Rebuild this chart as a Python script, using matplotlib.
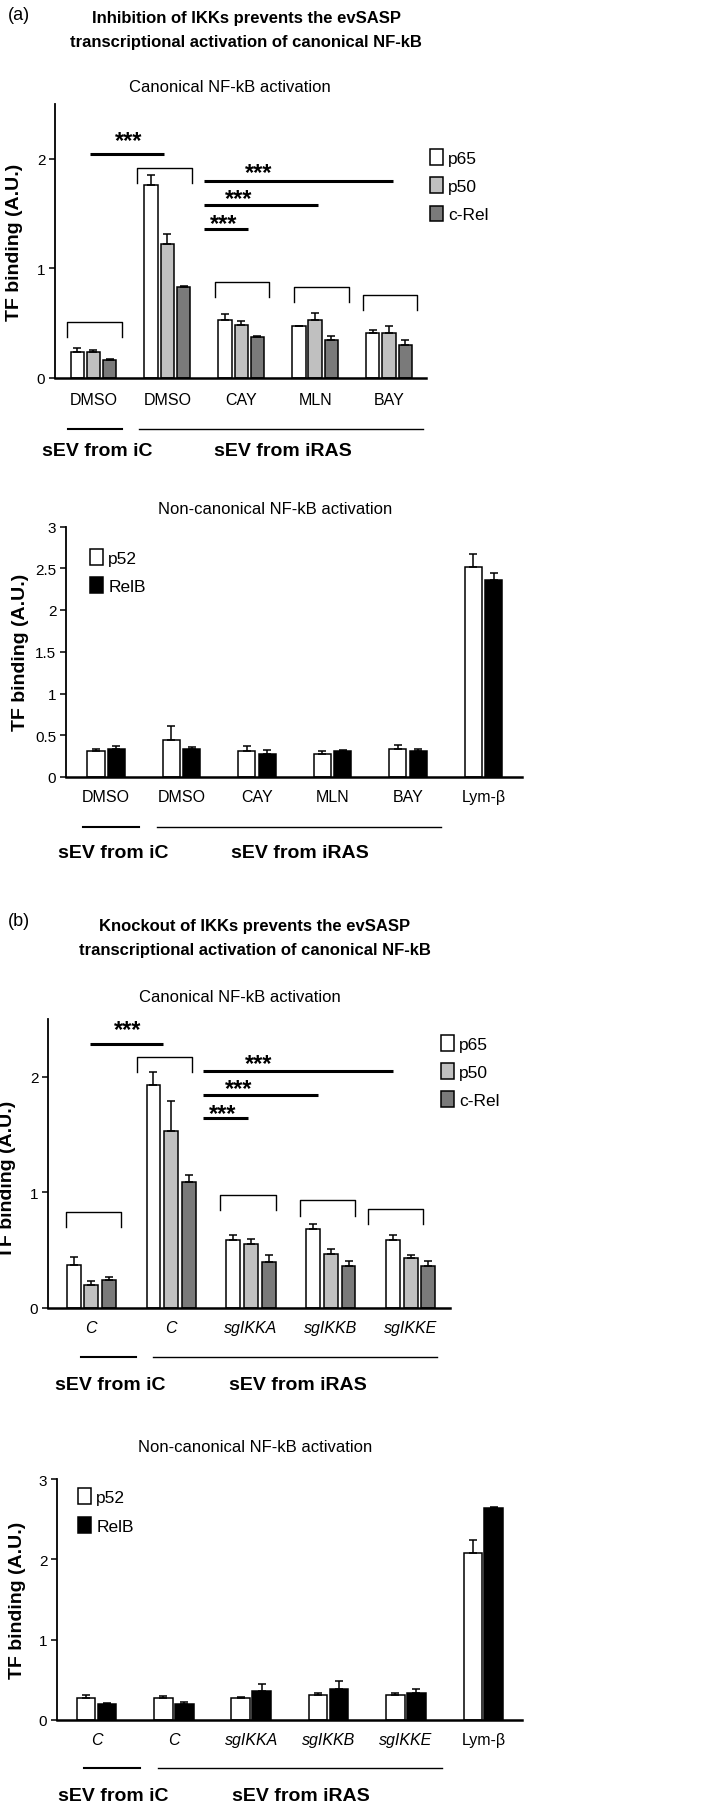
import numpy as np
import matplotlib
matplotlib.use('Agg')
import matplotlib.pyplot as plt

plt.rcParams['font.family'] = ['Liberation Sans', 'DejaVu Sans']

# ---------------- data ----------------
# (a) canonical
a_groups = ['DMSO', 'DMSO', 'CAY', 'MLN', 'BAY']
a_p65 = [0.24, 1.76, 0.53, 0.47, 0.41]
a_p65_err = [0.03, 0.09, 0.05, 0.005, 0.03]
a_p50 = [0.24, 1.22, 0.48, 0.53, 0.41]
a_p50_err = [0.02, 0.09, 0.04, 0.06, 0.06]
a_crel = [0.16, 0.83, 0.37, 0.35, 0.30]
a_crel_err = [0.01, 0.005, 0.01, 0.03, 0.045]

# (a) non-canonical
a2_groups = ['DMSO', 'DMSO', 'CAY', 'MLN', 'BAY', 'Lym-β']
a2_p52 = [0.31, 0.44, 0.31, 0.28, 0.33, 2.51]
a2_p52_err = [0.03, 0.17, 0.06, 0.03, 0.05, 0.16]
a2_relb = [0.34, 0.34, 0.28, 0.31, 0.31, 2.36]
a2_relb_err = [0.03, 0.02, 0.04, 0.01, 0.025, 0.08]

# (b) canonical
b_groups = ['C', 'C', 'sgIKKA', 'sgIKKB', 'sgIKKE']
b_p65 = [0.376, 1.925, 0.59, 0.68, 0.59]
b_p65_err = [0.064, 0.115, 0.04, 0.05, 0.04]
b_p50 = [0.20, 1.53, 0.55, 0.47, 0.43]
b_p50_err = [0.03, 0.26, 0.05, 0.04, 0.03]
b_crel = [0.245, 1.086, 0.40, 0.36, 0.36]
b_crel_err = [0.02, 0.064, 0.06, 0.05, 0.045]

# (b) non-canonical
b2_groups = ['C', 'C', 'sgIKKA', 'sgIKKB', 'sgIKKE', 'Lym-β']
b2_p52 = [0.28, 0.28, 0.28, 0.31, 0.31, 2.08]
b2_p52_err = [0.03, 0.02, 0.005, 0.025, 0.025, 0.16]
b2_relb = [0.195, 0.195, 0.36, 0.39, 0.335, 2.64]
b2_relb_err = [0.02, 0.035, 0.09, 0.09, 0.055, 0.01]

# brackets over each group (left, right, top) and significance lines (x0, x1, y, star_x, star_y)
a_brackets = [(-0.36, 0.39, 0.51), (0.59, 1.34, 1.92), (1.64, 2.38, 0.88), (2.72, 3.46, 0.83), (3.65, 4.38, 0.76)]
a_sig = [(-0.04, 0.95, 2.04, 0.47, 2.22), (1.49, 4.05, 1.80, 2.23, 1.93),
         (1.49, 3.04, 1.58, 1.96, 1.69), (1.49, 2.09, 1.36, 1.76, 1.46)]
b_brackets = [(-0.31, 0.375, 0.83), (0.575, 1.26, 2.17), (1.61, 2.31, 0.98), (2.61, 3.30, 0.93), (3.46, 4.15, 0.86)]
b_sig = [(-0.01, 0.90, 2.28, 0.46, 2.46), (1.40, 3.78, 2.05, 2.09, 2.17),
         (1.40, 2.84, 1.84, 1.84, 1.95), (1.40, 1.96, 1.64, 1.65, 1.73)]

W, H = 709, 1806
fig = plt.figure(figsize=(W / 100, H / 100), dpi=100)


def fx(px):
    return px / W


def fy(py):
    return 1 - py / H


def add_ax(left, right, top, bottom):
    return fig.add_axes([fx(left), fy(bottom), (right - left) / W, (bottom - top) / H])


def bars(ax, series, errs, colors, labels, width, offsets):
    x = np.arange(len(series[0]))
    for vals, err, c, lab, off in zip(series, errs, colors, labels, offsets):
        ax.bar(x + off, vals, width, color=c, edgecolor='black', linewidth=1.1,
               yerr=[np.zeros(len(err)), err], capsize=2.8,
               error_kw=dict(elinewidth=1.1, capthick=1.1, ecolor='black'),
               label=lab, zorder=2)
    return x


def style(ax, x, groups, xlim, ylim, yticks, italic=False, pad=10):
    ax.set_xlim(*xlim)
    ax.set_ylim(*ylim)
    for s in ['top', 'right']:
        ax.spines[s].set_visible(False)
    ax.spines['left'].set_linewidth(1.3)
    ax.spines['bottom'].set_linewidth(1.8)
    ax.set_yticks(yticks)
    ax.set_yticklabels(['{:g}'.format(t) for t in yticks])
    ax.tick_params(axis='y', length=4, width=1.1, labelsize=11, pad=3)
    ax.set_xticks(x)
    ax.set_xticklabels(groups, fontsize=11.5)
    if italic:
        for t in ax.get_xticklabels():
            if not t.get_text().startswith('Lym'):
                t.set_style('italic')
    ax.tick_params(axis='x', length=0, pad=pad)
    ax.set_ylabel('TF binding (A.U.)', fontsize=14, fontweight='bold', va='center')


def groups_below(ax, iC_span, iRAS_span, y_line, y_text, iC_x, iRAS_x):
    tr = ax.get_xaxis_transform()
    ax.plot(iC_span, [y_line, y_line], color='black', lw=1.5, transform=tr, clip_on=False)
    ax.plot(iRAS_span, [y_line, y_line], color='black', lw=1.0, transform=tr, clip_on=False)
    ax.text(iC_x, y_text, 'sEV from iC', transform=tr, ha='center', va='center',
            fontsize=14, fontweight='bold')
    ax.text(iRAS_x, y_text, 'sEV from iRAS', transform=tr, ha='center', va='center',
            fontsize=14, fontweight='bold')


def annotate_sig(ax, brackets, sig, drop):
    for l, r, t in brackets:
        ax.plot([l, l, r, r], [t - drop, t, t, t - drop], color='black', lw=1.0, clip_on=False)
    for x0, x1, y, sx, sy in sig:
        ax.plot([x0, x1], [y, y], color='black', lw=2.2, solid_capstyle='butt', clip_on=False)
        ax.annotate('***', xy=(sx, sy), xytext=(0, -9), textcoords='offset points',
                    ha='center', va='baseline', fontsize=17, fontweight='bold',
                    annotation_clip=False)


def legend(ax, anchor, spacing=0.65):
    ax.legend(loc='upper left', bbox_to_anchor=anchor, frameon=False, fontsize=12.5,
              handlelength=0.75, handleheight=1.03, handletextpad=0.3, labelspacing=spacing,
              borderaxespad=0, borderpad=0)


grey = ['white', '#c0c0c0', '#7a7a7a']
bw = ['white', 'black']

# ---------------- (a) ----------------
fig.text(fx(8), fy(15), '(a)', fontsize=13, va='center', ha='left')
fig.text(fx(246), fy(30), 'Inhibition of IKKs prevents the evSASP\ntranscriptional activation of canonical NF-kB',
         fontsize=12, fontweight='bold', ha='center', va='center', linespacing=1.75)
fig.text(fx(230), fy(88), 'Canonical NF-kB activation', fontsize=12, ha='center', va='center')

ax1 = add_ax(55, 426, 105, 379)
x = bars(ax1, [a_p65, a_p50, a_crel], [a_p65_err, a_p50_err, a_crel_err], grey,
         ['p65', 'p50', 'c-Rel'], 0.18, [-0.22, 0, 0.22])
style(ax1, x, a_groups, (-0.52, 4.5), (0, 2.5), [0, 1, 2])
ax1.yaxis.set_label_coords(-0.11, 0.5)
annotate_sig(ax1, a_brackets, a_sig, 0.14)
groups_below(ax1, [-0.35, 0.39], [0.62, 4.46], -0.186, -0.266, 0.05, 2.57)
legend(ax1, (1.01, 0.835))

fig.text(fx(275), fy(510), 'Non-canonical NF-kB activation', fontsize=12, ha='center', va='center')
ax2 = add_ax(66, 522, 527.5, 778)
x = bars(ax2, [a2_p52, a2_relb], [a2_p52_err, a2_relb_err], bw, ['p52', 'RelB'], 0.23, [-0.135, 0.135])
style(ax2, x, a2_groups, (-0.53, 5.51), (0, 3), [0, 0.5, 1, 1.5, 2, 2.5, 3], pad=9)
ax2.yaxis.set_label_coords(-0.1, 0.5)
groups_below(ax2, [-0.30, 0.44], [0.68, 4.44], -0.2, -0.3, 0.09, 2.57)
legend(ax2, (0.053, 0.91))

# ---------------- (b) ----------------
fig.text(fx(8), fy(922), '(b)', fontsize=13, va='center', ha='left')
fig.text(fx(255), fy(939), 'Knockout of IKKs prevents the evSASP\ntranscriptional activation of canonical NF-kB',
         fontsize=12, fontweight='bold', ha='center', va='center', linespacing=1.75)
fig.text(fx(240), fy(997), 'Canonical NF-kB activation', fontsize=12, ha='center', va='center')

ax3 = add_ax(48, 450, 1020, 1309)
x = bars(ax3, [b_p65, b_p50, b_crel], [b_p65_err, b_p50_err, b_crel_err], grey,
         ['p65', 'p50', 'c-Rel'], 0.175, [-0.22, 0, 0.22])
style(ax3, x, b_groups, (-0.54, 4.49), (0, 2.5), [0, 1, 2], italic=True, pad=8.5)
ax3.yaxis.set_label_coords(-0.1, 0.45)
annotate_sig(ax3, b_brackets, b_sig, 0.13)
groups_below(ax3, [-0.125, 0.56], [0.78, 4.33], -0.17, -0.263, 0.24, 2.59)
legend(ax3, (0.978, 0.945))

fig.text(fx(255), fy(1448), 'Non-canonical NF-kB activation', fontsize=12, ha='center', va='center')
ax4 = add_ax(57, 522, 1480, 1721)
x = bars(ax4, [b2_p52, b2_relb], [b2_p52_err, b2_relb_err], bw, ['p52', 'RelB'], 0.24, [-0.135, 0.135])
style(ax4, x, b2_groups, (-0.51, 5.5), (0, 3), [0, 1, 2, 3], italic=True, pad=9)
ax4.yaxis.set_label_coords(-0.085, 0.5)
groups_below(ax4, [-0.155, 0.56], [0.79, 4.46], -0.2, -0.315, 0.22, 2.64)
legend(ax4, (0.045, 0.963), spacing=0.7)

fig.savefig('out.png', dpi=100)
